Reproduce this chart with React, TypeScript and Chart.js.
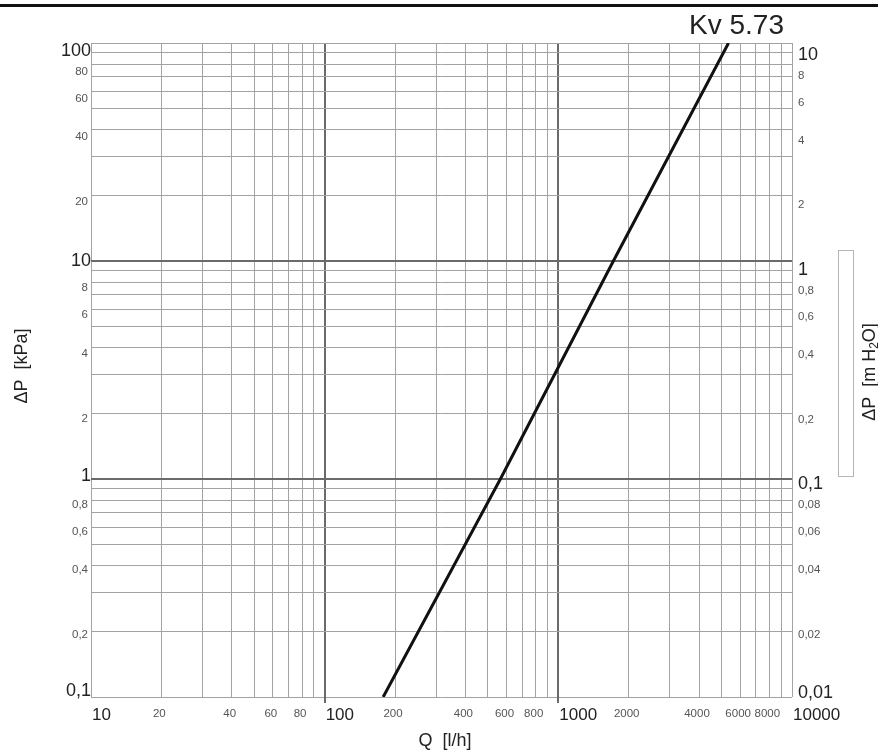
import React, { useEffect, useRef } from "react";
import { Chart, registerables } from "chart.js";

Chart.register(...registerables);

// Data (Kv 5.73 line)
const flowLh = [178, 565, 1720, 5350];
const dpKpa = [0.1, 1, 10, 100];

// Grid values (log grid 1..9 per decade)
const multipliers = [1, 2, 3, 4, 5, 6, 7, 8, 9];
const xDecades = [10, 100, 1000];
const yDecades = [0.1, 1, 10];
const xGridValues = [...xDecades.flatMap((d) => multipliers.map((m) => +(d * m).toPrecision(6))), 10000];
const yGridValues = [...yDecades.flatMap((d) => multipliers.map((m) => +(d * m).toPrecision(6))), 100];

// Tick labels
const xLabelValues = [10, 20, 40, 60, 80, 100, 200, 400, 600, 800, 1000, 2000, 4000, 6000, 8000, 10000];
const xMajorLabels = [10, 100, 1000, 10000];
const leftLabelValues = [0.1, 0.2, 0.4, 0.6, 0.8, 1, 2, 4, 6, 8, 10, 20, 40, 60, 80, 100];
const leftMajorLabels = [0.1, 1, 10, 100];
const rightLabelValues = [0.01, 0.02, 0.04, 0.06, 0.08, 0.1, 0.2, 0.4, 0.6, 0.8, 1, 2, 4, 6, 8, 10];
const rightMajorLabels = [0.01, 0.1, 1, 10];

const chartTitle = "Kv 5.73";
const xTitle = "Q  [l/h]";
const yTitle = "ΔP  [kPa]";
const y2TitleParts = ["ΔP  [m H", "2", "O]"];

const FONT = "'Liberation Sans', Arial, sans-serif";
const fmt = (v: number) => String(v).replace(".", ",");
const isDecade = (v: number) => Math.abs(Math.log10(v) - Math.round(Math.log10(v))) < 1e-9;

const overlay = {
  id: "overlay",
  afterDraw(chart: any) {
    const { ctx, chartArea: ca } = chart;
    const xs = chart.scales.x;
    const ys = chart.scales.y;
    const y2 = chart.scales.y2;
    ctx.save();

    // top rule
    ctx.fillStyle = "#111";
    ctx.fillRect(0, 4, chart.width, 3);

    // small extensions of major vertical lines below the plot
    ctx.strokeStyle = "#6a6a6a";
    ctx.lineWidth = 2;
    [100, 1000].forEach((v) => {
      const px = Math.round(xs.getPixelForValue(v));
      ctx.beginPath();
      ctx.moveTo(px, ca.bottom);
      ctx.lineTo(px, ca.bottom + 6);
      ctx.stroke();
    });

    ctx.textBaseline = "middle";
    // x labels
    xLabelValues.forEach((v) => {
      const px = xs.getPixelForValue(v);
      const major = xMajorLabels.includes(v);
      if (major) {
        ctx.font = `17px ${FONT}`;
        ctx.fillStyle = "#222";
        ctx.textAlign = "left";
        ctx.fillText(String(v), px + 1, ca.bottom + 18);
      } else {
        ctx.font = `11.5px ${FONT}`;
        ctx.fillStyle = "#555";
        ctx.textAlign = "center";
        ctx.fillText(String(v), px - 2, ca.bottom + 17);
      }
    });

    const span = ca.bottom - ca.top;
    // left labels
    leftLabelValues.forEach((v) => {
      const py = ys.getPixelForValue(v);
      const frac = (ca.bottom - py) / span;
      const major = leftMajorLabels.includes(v);
      let off: number;
      ctx.textAlign = "right";
      if (major) {
        off = v === 100 ? 8 : v === 0.1 ? -6 : v === 10 ? 0 : -3;
        ctx.font = `18px ${FONT}`;
        ctx.fillStyle = "#222";
        ctx.fillText(fmt(v), ca.left, py + off);
      } else {
        off = 3 + 5 * frac;
        ctx.font = `11.5px ${FONT}`;
        ctx.fillStyle = "#555";
        ctx.fillText(fmt(v), ca.left - 3, py + off);
      }
    });

    // right labels (m H2O)
    rightLabelValues.forEach((v) => {
      const py = y2.getPixelForValue(v);
      const frac = (ca.bottom - py) / span;
      const major = rightMajorLabels.includes(v);
      const off = v === 0.01 ? -4 : 2 + 10 * frac;
      ctx.textAlign = "left";
      if (major) {
        ctx.font = `18px ${FONT}`;
        ctx.fillStyle = "#222";
      } else {
        ctx.font = `11.5px ${FONT}`;
        ctx.fillStyle = "#555";
      }
      ctx.fillText(fmt(v), ca.right + 6, py + off);
    });

    // title
    ctx.font = `28px ${FONT}`;
    ctx.fillStyle = "#222";
    ctx.textAlign = "right";
    ctx.fillText(chartTitle, 784, 26);

    // x title
    ctx.font = `18px ${FONT}`;
    ctx.fillStyle = "#222";
    ctx.textAlign = "center";
    ctx.fillText(xTitle, 445, ca.bottom + 44);

    // left y title
    ctx.save();
    ctx.translate(22, 366);
    ctx.rotate(-Math.PI / 2);
    ctx.textAlign = "center";
    ctx.fillText(yTitle, 0, 0);
    ctx.restore();

    // right box and title
    ctx.fillStyle = "#fff";
    ctx.fillRect(838.5, 250.5, 15, 226);
    ctx.strokeStyle = "#b5b5b5";
    ctx.lineWidth = 1;
    ctx.strokeRect(838.5, 250.5, 15, 226);

    ctx.save();
    ctx.translate(870, 372);
    ctx.rotate(-Math.PI / 2);
    ctx.fillStyle = "#222";
    ctx.font = `18px ${FONT}`;
    const w0 = ctx.measureText(y2TitleParts[0]).width;
    ctx.font = `12px ${FONT}`;
    const w1 = ctx.measureText(y2TitleParts[1]).width;
    ctx.font = `18px ${FONT}`;
    const w2 = ctx.measureText(y2TitleParts[2]).width;
    let sx = -(w0 + w1 + w2) / 2;
    ctx.textAlign = "left";
    ctx.fillText(y2TitleParts[0], sx, 0);
    sx += w0;
    ctx.font = `12px ${FONT}`;
    ctx.fillText(y2TitleParts[1], sx, 5);
    sx += w1;
    ctx.font = `18px ${FONT}`;
    ctx.fillText(y2TitleParts[2], sx, 0);
    ctx.restore();

    ctx.restore();
  },
};

const gridColor = (c: any) => {
  const v = c.tick && c.tick.value;
  const s = c.scale;
  if (v === undefined) return "#a0a0a0";
  if (isDecade(v) && v !== s.min && v !== s.max) return "#6a6a6a";
  return "#a3a3a3";
};
const gridWidth = (c: any) => {
  const v = c.tick && c.tick.value;
  const s = c.scale;
  if (v !== undefined && isDecade(v) && v !== s.min && v !== s.max) return 2;
  return 1;
};

export default function App() {
  const canvasRef = useRef<HTMLCanvasElement>(null);

  useEffect(() => {
    if (!canvasRef.current) return;
    const chart = new Chart(canvasRef.current, {
      type: "line",
      data: {
        datasets: [
          {
            label: chartTitle,
            data: flowLh.map((q, i) => ({ x: q, y: dpKpa[i] })),
            borderColor: "#111",
            borderWidth: 3,
            pointRadius: 0,
            tension: 0,
            fill: false,
          },
        ],
      },
      options: {
        animation: false,
        responsive: true,
        maintainAspectRatio: false,
        layout: { padding: { left: 91, right: 86, top: 43, bottom: 59 } },
        plugins: { legend: { display: false }, tooltip: { enabled: false }, title: { display: false } },
        scales: {
          x: {
            type: "logarithmic",
            min: 10,
            max: 10000,
            afterBuildTicks: (s: any) => {
              s.ticks = xGridValues.map((v) => ({ value: v }));
            },
            ticks: { display: false },
            grid: { color: gridColor, lineWidth: gridWidth, drawTicks: false },
            border: { display: false },
          },
          y: {
            type: "logarithmic",
            position: "left",
            min: 0.1,
            max: 100,
            afterBuildTicks: (s: any) => {
              s.ticks = yGridValues.map((v) => ({ value: v }));
            },
            ticks: { display: false },
            grid: { color: gridColor, lineWidth: gridWidth, drawTicks: false },
            border: { display: false },
          },
          y2: {
            type: "logarithmic",
            position: "right",
            min: 0.01,
            max: 10,
            display: false,
          },
        },
      },
      plugins: [overlay],
    } as any);
    return () => chart.destroy();
  }, []);

  return (
    <div style={{ position: "fixed", left: 0, top: 0, width: 878, height: 756, background: "#fff" }}>
      <canvas ref={canvasRef} />
    </div>
  );
}
